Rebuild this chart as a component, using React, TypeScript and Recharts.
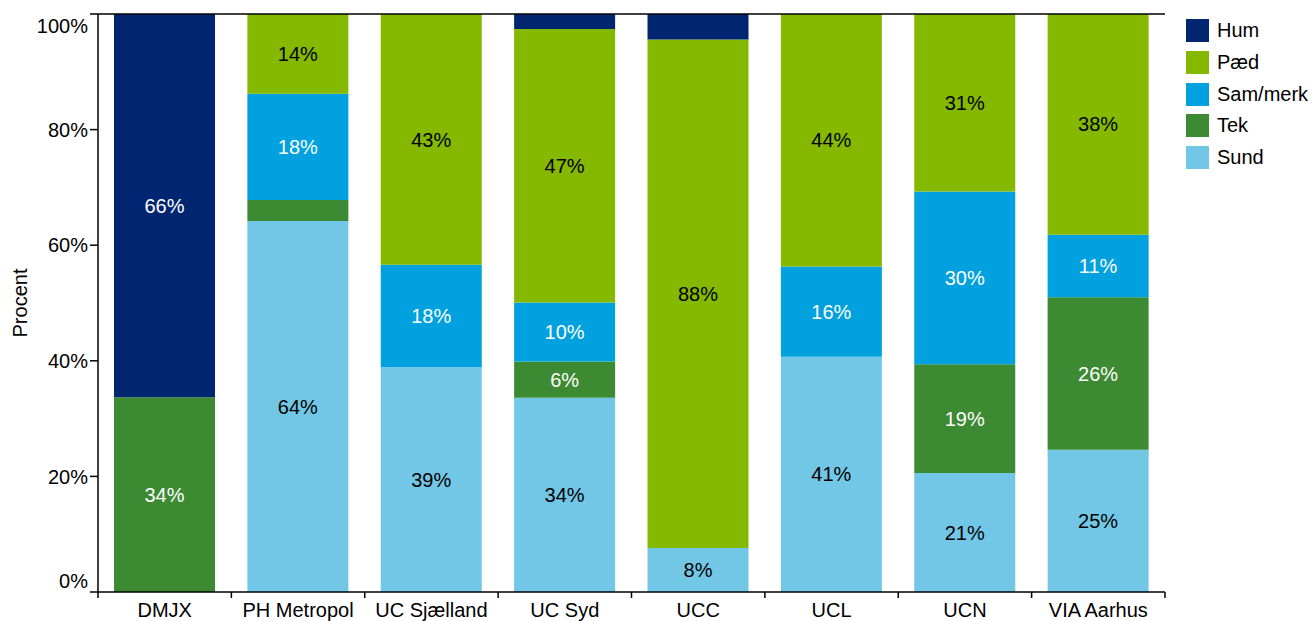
import {
  BarChart,
  Bar,
  XAxis,
  YAxis,
  LabelList,
  ReferenceLine,
} from 'recharts';

const categories = ['DMJX', 'PH Metropol', 'UC Sjælland', 'UC Syd', 'UCC', 'UCL', 'UCN', 'VIA Aarhus'];
const sund = [0, 64.2, 38.9, 33.6, 7.6, 40.7, 20.6, 24.6];
const tek = [33.7, 3.6, 0, 6.3, 0, 0, 18.8, 26.4];
const samMerk = [0, 18.4, 17.7, 10.2, 0, 15.6, 29.9, 10.8];
const paed = [0, 13.8, 43.4, 47.3, 88.0, 43.7, 30.7, 38.2];
const hum = [66.3, 0, 0, 2.6, 4.4, 0, 0, 0];
const yTicks = [0, 20, 40, 60, 80, 100];

// stacking order bottom -> top
const series = [
  { key: 'sund', name: 'Sund', values: sund, color: '#71c7e5', text: '#000' },
  { key: 'tek', name: 'Tek', values: tek, color: '#3c8a31', text: '#fff' },
  { key: 'sam', name: 'Sam/merk', values: samMerk, color: '#00a1de', text: '#fff' },
  { key: 'paed', name: 'Pæd', values: paed, color: '#84b900', text: '#000' },
  { key: 'hum', name: 'Hum', values: hum, color: '#002672', text: '#fff' },
];

const data = categories.map((name, i) => {
  const row: Record<string, string | number> = { name };
  series.forEach((s) => { row[s.key] = s.values[i]; });
  return row;
});

const W = 1313;
const H = 621;
const X_AXIS_H = 29;
const margin = { top: 14, right: 148, bottom: 0, left: 0 };
const Y_AXIS_W = 98;
const BAND = (W - margin.left - margin.right - Y_AXIS_W) / categories.length;

const XTick = ({ x, y, payload, index }: any) => (
  <g>
    <line x1={x - BAND / 2} x2={x - BAND / 2} y1={y} y2={y + 6} stroke="#000" strokeWidth={1.5} />
    {index === categories.length - 1 && (
      <line x1={x + BAND / 2} x2={x + BAND / 2} y1={y} y2={y + 6} stroke="#000" strokeWidth={1.5} />
    )}
    <text x={x} y={y + 25} textAnchor="middle" fontSize={20} fill="#000">{payload.value}</text>
  </g>
);

const YTick = ({ x, y, payload }: any) => {
  const shift = payload.value === 100 ? 12 : payload.value === 0 ? -11 : 0;
  return (
    <text x={x} y={y + shift} dy="0.355em" textAnchor="end" fontSize={20} fill="#000">
      {payload.value}%
    </text>
  );
};

const YLabel = ({ viewBox }: any) => {
  const cx = 20;
  const cy = viewBox.y + viewBox.height / 2;
  return (
    <text x={cx} y={cy} transform={`rotate(-90, ${cx}, ${cy})`} textAnchor="middle" dy="0.355em" fontSize={20} fill="#000">
      Procent
    </text>
  );
};

const fmt = (v: any) => (typeof v === 'number' && v >= 5 ? `${Math.round(v)}%` : '');

export default function App() {
  const legendItems = [...series].reverse();
  return (
    <div style={{ position: 'absolute', left: 0, top: 0, width: W, height: H, fontFamily: '"Liberation Sans", Arial, sans-serif', background: '#fff' }}>
      <BarChart width={W} height={H} data={data} margin={margin}>
        <XAxis
          dataKey="name"
          height={X_AXIS_H}
          tickLine={false}
          tickSize={0}
          tickMargin={0}
          axisLine={{ stroke: '#000', strokeWidth: 1.5 }}
          tick={<XTick />}
          interval={0}
        />
        <YAxis
          width={Y_AXIS_W}
          domain={[0, 100]}
          ticks={yTicks}
          tickSize={8}
          tickMargin={2}
          tickLine={{ stroke: '#000', strokeWidth: 1.5 }}
          axisLine={{ stroke: '#000', strokeWidth: 1.5 }}
          tick={<YTick />}
          label={<YLabel />}
        />
        <YAxis
          yAxisId="right"
          orientation="right"
          width={0}
          domain={[0, 100]}
          tick={false}
          tickLine={false}
          axisLine={{ stroke: '#000', strokeWidth: 1.5 }}
        />
        <ReferenceLine y={100} stroke="#000" strokeWidth={1.5} />
        {series.map((s) => (
          <Bar key={s.key} dataKey={s.key} name={s.name} stackId="a" fill={s.color} barSize={101} isAnimationActive={false}>
            <LabelList dataKey={s.key} position="center" formatter={fmt} fill={s.text} fontSize={20} />
          </Bar>
        ))}
      </BarChart>
      <div style={{ position: 'absolute', left: 1186, top: 15 }}>
        {legendItems.map((s) => (
          <div key={s.key} style={{ display: 'flex', alignItems: 'center', height: 31.7 }}>
            <div style={{ width: 23, height: 23, background: s.color, marginRight: 8 }} />
            <span style={{ fontSize: 20, color: '#000', lineHeight: '23px' }}>{s.name}</span>
          </div>
        ))}
      </div>
    </div>
  );
}
